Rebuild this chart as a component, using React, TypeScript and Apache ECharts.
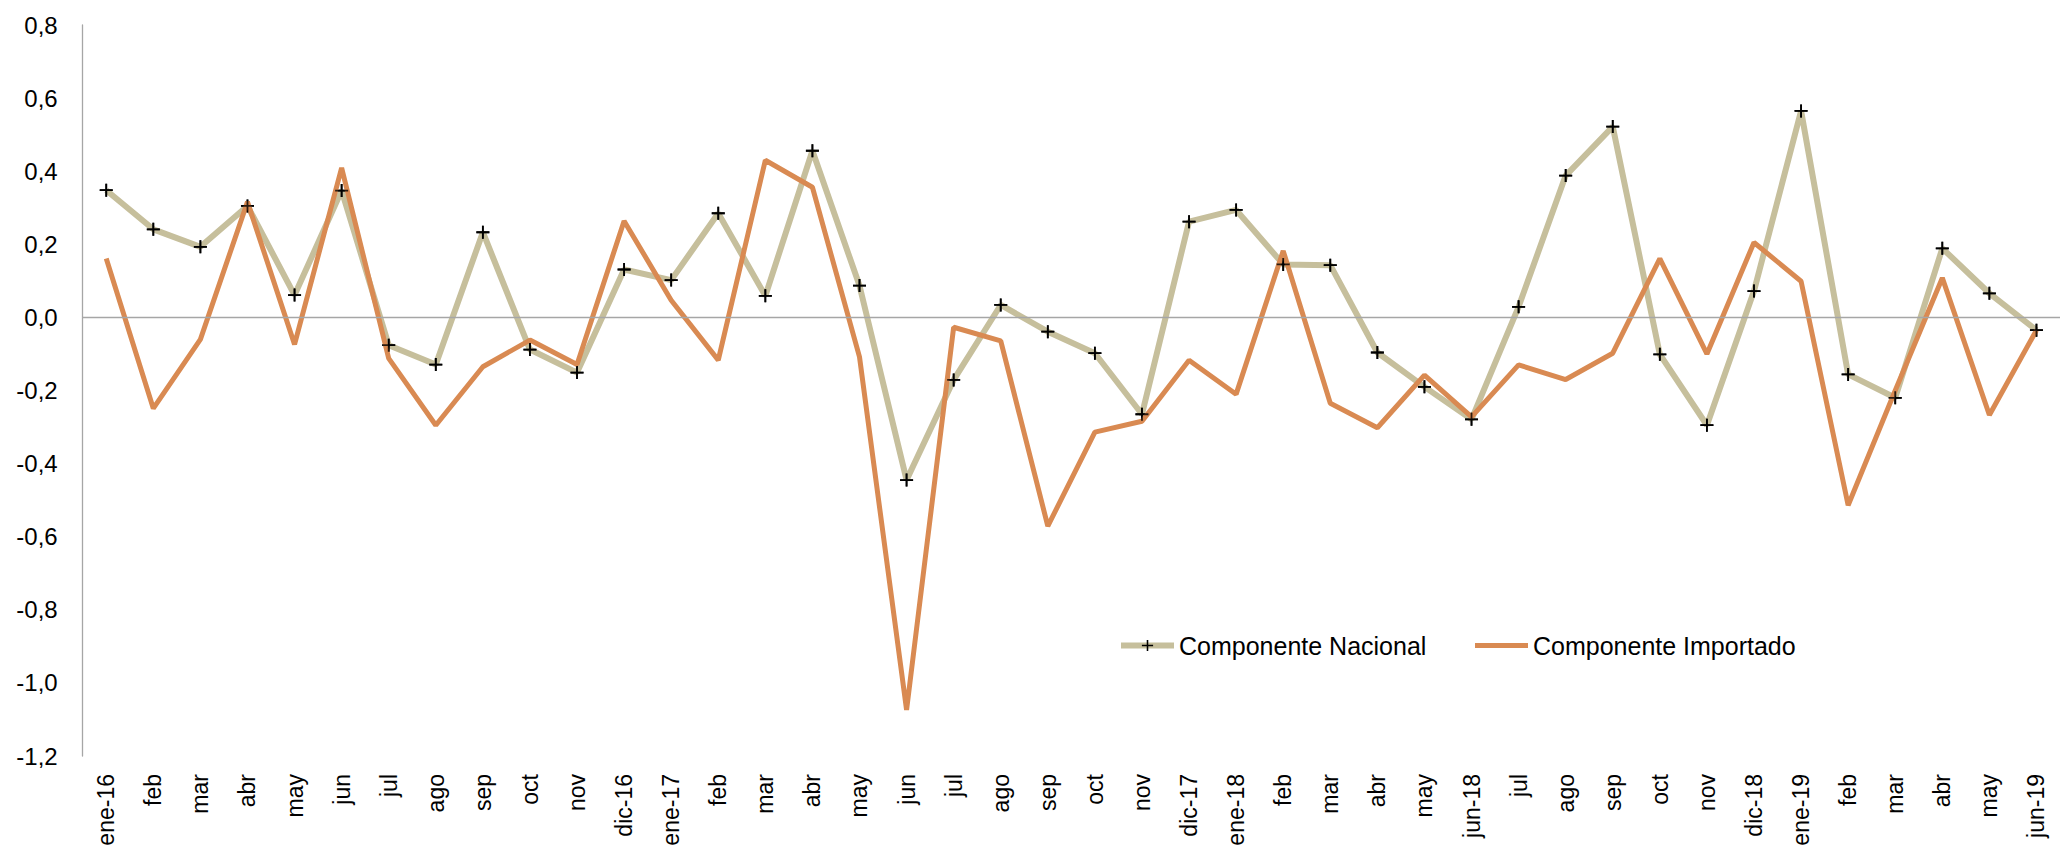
import React, { useEffect, useRef } from "react";
import * as echarts from "echarts";

const categories = [
  "ene-16", "feb", "mar", "abr", "may", "jun", "jul", "ago", "sep", "oct", "nov", "dic-16",
  "ene-17", "feb", "mar", "abr", "may", "jun", "jul", "ago", "sep", "oct", "nov", "dic-17",
  "ene-18", "feb", "mar", "abr", "may", "jun-18", "jul", "ago", "sep", "oct", "nov", "dic-18",
  "ene-19", "feb", "mar", "abr", "may", "jun-19",
];

const nacional = [
  0.348, 0.241, 0.193, 0.305, 0.061, 0.347, -0.076, -0.129, 0.233, -0.088, -0.151, 0.131,
  0.102, 0.285, 0.059, 0.456, 0.087, -0.445, -0.171, 0.034, -0.039, -0.098, -0.265, 0.262,
  0.294, 0.145, 0.143, -0.096, -0.19, -0.279, 0.029, 0.388, 0.522, -0.101, -0.295, 0.072,
  0.565, -0.156, -0.22, 0.189, 0.066, -0.035,
];

const importado = [
  0.161, -0.249, -0.06, 0.316, -0.074, 0.409, -0.112, -0.295, -0.135, -0.062, -0.129, 0.264,
  0.047, -0.117, 0.43, 0.356, -0.108, -1.074, -0.027, -0.064, -0.571, -0.314, -0.284, -0.117,
  -0.21, 0.182, -0.235, -0.302, -0.158, -0.272, -0.13, -0.17, -0.098, 0.161, -0.1, 0.205,
  0.099, -0.514, -0.2, 0.108, -0.267, -0.035,
];

const NAME_NAC = "Componente Nacional";
const NAME_IMP = "Componente Importado";

const NARROW = "'Liberation Sans Narrow', 'Arial Narrow', 'Liberation Sans', sans-serif";
const REGULAR = "'Liberation Sans', Arial, sans-serif";
const CROSS = "path://M0,5.6 H13 V7.4 H0 Z M5.6,0 H7.4 V13 H5.6 Z";
const BEIGE = "#c6bf9c";
const ORANGE = "#d98a52";

export default function App() {
  const ref = useRef<HTMLDivElement>(null);

  useEffect(() => {
    if (!ref.current) return;
    const chart = echarts.init(ref.current, null, { renderer: "svg" });
    chart.setOption({
      animation: false,
      backgroundColor: "#ffffff",
      grid: { left: 82.7, top: 25, width: 1985, height: 731, containLabel: false },
      legend: [
        {
          data: [NAME_NAC],
          left: 1113,
          top: 628,
          itemWidth: 53,
          itemHeight: 14,
          itemGap: 5,
          lineStyle: { width: 6, color: BEIGE },
          textStyle: { fontFamily: NARROW, fontSize: 25, color: "#000" },
        },
        {
          data: [{ name: NAME_IMP, icon: "rect" }],
          left: 1470,
          top: 628,
          itemWidth: 53,
          itemHeight: 5,
          itemGap: 5,
          itemStyle: { color: ORANGE },
          textStyle: { fontFamily: NARROW, fontSize: 25, color: "#000" },
        },
      ],
      xAxis: {
        type: "category",
        data: categories,
        boundaryGap: true,
        axisLine: { show: false },
        axisTick: { show: false },
        axisLabel: {
          rotate: 90,
          interval: 0,
          margin: 18,
          fontFamily: REGULAR,
          fontSize: 23,
          color: "#000",
        },
      },
      yAxis: {
        type: "value",
        min: -1.2,
        max: 0.8,
        interval: 0.2,
        axisLine: { show: true, lineStyle: { color: "#a6a6a6", width: 1.3 } },
        axisTick: { show: false },
        splitLine: { show: false },
        axisLabel: {
          margin: 25,
          fontFamily: NARROW,
          fontSize: 24,
          color: "#000",
          formatter: (v: number) => v.toFixed(1).replace(".", ","),
        },
      },
      series: [
        {
          name: NAME_NAC,
          type: "line",
          data: nacional,
          z: 2,
          symbol: CROSS,
          symbolSize: 13,
          showSymbol: true,
          itemStyle: { color: "#000000" },
          lineStyle: { color: BEIGE, width: 6 },
          markLine: {
            silent: true,
            symbol: "none",
            label: { show: false },
            lineStyle: { color: "#a6a6a6", width: 1.3, type: "solid" },
            data: [{ yAxis: 0 }],
          },
        },
        {
          name: NAME_IMP,
          type: "line",
          data: importado,
          z: 3,
          symbol: "none",
          itemStyle: { color: ORANGE },
          lineStyle: { color: ORANGE, width: 5 },
        },
        {
          name: "cruces",
          type: "scatter",
          data: nacional,
          z: 4,
          symbol: CROSS,
          symbolSize: 13,
          itemStyle: { color: "#000000" },
          silent: true,
        },
      ],
    });
    return () => chart.dispose();
  }, []);

  return (
    <div
      ref={ref}
      style={{ position: "absolute", left: 0, top: 0, width: 2060, height: 850 }}
    />
  );
}
